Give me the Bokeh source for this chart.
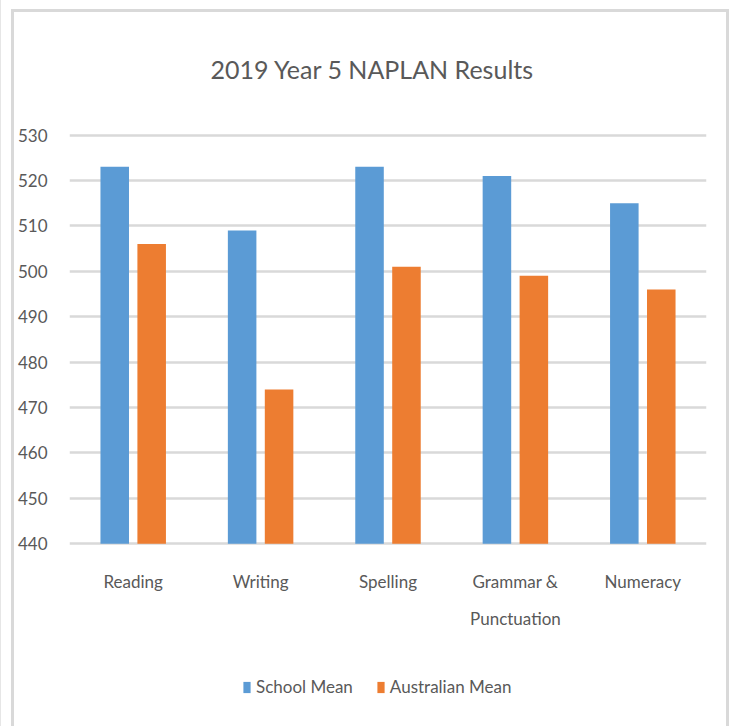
from bokeh.plotting import figure
from bokeh.models import (ColumnDataSource, FactorRange, Range1d, FixedTicker,
                          Legend, LegendItem)
from bokeh.core.properties import value
from bokeh.transform import dodge
from bokeh.embed import file_html
from bokeh.resources import INLINE

categories = ["Reading", "Writing", "Spelling", "Grammar &\nPunctuation", "Numeracy"]
school_mean = [523, 509, 523, 521, 515]
australian_mean = [506, 474, 501, 499, 496]
y_ticks = [440, 450, 460, 470, 480, 490, 500, 510, 520, 530]

FONT = "Lato"
TXT = "#595959"
GRID = "#d9d9d9"
BASE = 440          # value axis starts here
LABEL_Y = 434.1     # category labels hang just below the value axis

src = ColumnDataSource(dict(cat=categories, school=school_mean, aus=australian_mean))

p = figure(x_range=FactorRange(*categories, range_padding=0),
           y_range=Range1d(400, 531),
           frame_width=637, frame_height=595,
           output_backend="svg", toolbar_location=None,
           min_border_left=69, min_border_right=25,
           min_border_top=130, min_border_bottom=1)

# chart-area frame (left, top, right edges) drawn as inset shadows behind a transparent canvas border
p.border_fill_color = None
p.background_fill_color = "white"
p.styles = {"box-shadow": (f"inset 1px 0 0 0 #e6e6e6, "
                           "inset 11px 0 0 0 #ffffff, inset 0 9px 0 0 #ffffff, "
                           "inset -2px 0 0 0 #ffffff, "
                           f"inset 14px 0 0 0 {GRID}, inset 0 12px 0 0 {GRID}, "
                           f"inset -5px 0 0 0 {GRID}")}

p.title.text = "2019 Year 5 NAPLAN Results"
p.title.align = "left"
p.title.offset = 141
p.title.text_font = FONT
p.title.text_font_size = "25px"
p.title.text_font_style = "normal"
p.title.text_color = TXT
p.title.standoff = 93

r1 = p.vbar(x=dodge("cat", -0.145, range=p.x_range), top="school", bottom=BASE,
            width=0.224, source=src, color="#5B9BD5", line_color=None)
r2 = p.vbar(x=dodge("cat", 0.145, range=p.x_range), top="aus", bottom=BASE,
            width=0.224, source=src, color="#ED7D31", line_color=None)

p.text(x="cat", y=LABEL_Y, text="cat", source=src,
       text_font=value(FONT), text_font_size="17px", text_color=TXT,
       text_align="center", text_baseline="top", text_line_height=1.8)

p.yaxis.ticker = FixedTicker(ticks=y_ticks)
p.yaxis.axis_line_color = None
p.yaxis.major_tick_line_color = None
p.yaxis.minor_tick_line_color = None
p.yaxis.major_label_text_font = FONT
p.yaxis.major_label_text_font_size = "17px"
p.yaxis.major_label_text_color = TXT
p.yaxis.major_label_standoff = 16

p.xaxis.visible = False

p.xgrid.grid_line_color = None
p.ygrid.grid_line_color = GRID
p.ygrid.grid_line_width = 2.5
p.ygrid.ticker = FixedTicker(ticks=y_ticks)
p.outline_line_color = None

legend = Legend(items=[LegendItem(label="School Mean", renderers=[r1]),
                       LegendItem(label="Australian Mean", renderers=[r2])],
                orientation="horizontal", location=(173, 28),
                label_text_font=FONT, label_text_font_size="17px",
                label_text_color=TXT, glyph_width=9, glyph_height=14,
                label_height=14, label_standoff=5, spacing=23,
                border_line_color=None, background_fill_color=None,
                margin=0, padding=0)
p.add_layout(legend, "center")

open("out.html", "w").write(file_html(p, INLINE))
